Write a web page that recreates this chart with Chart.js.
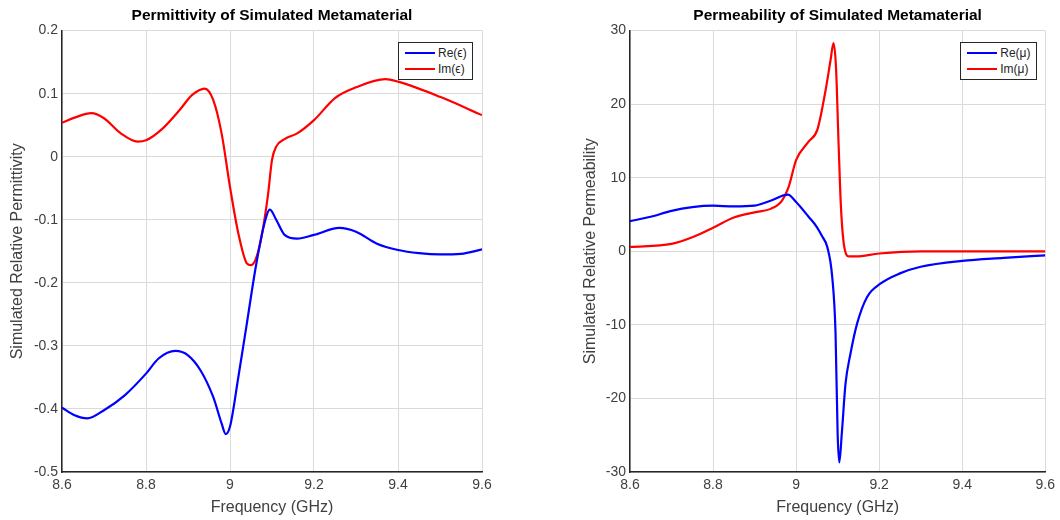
<!DOCTYPE html>
<html>
<head>
<meta charset="utf-8">
<script src="https://cdn.jsdelivr.net/npm/chart.js@4.4.1/dist/chart.umd.min.js"></script>
<style>
  body { margin: 0; background: #fff; }
  #wrap { position: relative; width: 1060px; height: 520px; overflow: hidden; }
  .pane { position: absolute; top: 0; width: 530px; height: 520px; }
  .legend {
    position: absolute; background: #fff; border: 1px solid #262626;
    font: 12px "Liberation Sans", Arial, sans-serif; color: #262626;
    padding: 2px 5px 2px 6px;
  }
  .legend .row { display: flex; align-items: center; height: 16px; }
  .legend .sw { display: inline-block; width: 30px; height: 2px; margin-right: 3px; }
</style>
</head>
<body>
<div id="wrap">
  <div class="pane" style="left:0"><canvas id="chart-eps" width="530" height="520"></canvas></div>
  <div class="pane" style="left:530px"><canvas id="chart-mu" width="530" height="520"></canvas></div>
  <div class="legend" id="legend-eps"></div>
  <div class="legend" id="legend-mu"></div>
</div>
<script>
(function () {
// values
const epsReFreq = [8.6, 8.63, 8.66, 8.7, 8.75, 8.8, 8.83, 8.87, 8.9, 8.93, 8.96, 8.98, 8.99, 9.0, 9.02, 9.04, 9.06, 9.08, 9.095, 9.11, 9.13, 9.16, 9.2, 9.26, 9.3, 9.35, 9.4, 9.45, 9.5, 9.55, 9.6];
const epsRe = [-0.398, -0.41, -0.415, -0.402, -0.378, -0.344, -0.32, -0.308, -0.315, -0.339, -0.381, -0.423, -0.44, -0.428, -0.349, -0.265, -0.18, -0.111, -0.084, -0.1, -0.124, -0.13, -0.124, -0.113, -0.119, -0.138, -0.148, -0.153, -0.155, -0.154, -0.147];

const epsImFreq = [8.6, 8.63, 8.67, 8.7, 8.74, 8.78, 8.8, 8.84, 8.88, 8.91, 8.94, 8.96, 8.98, 9.0, 9.02, 9.04, 9.05, 9.07, 9.09, 9.1, 9.11, 9.13, 9.16, 9.2, 9.25, 9.3, 9.37, 9.4, 9.5, 9.6];
const epsIm = [0.054, 0.062, 0.069, 0.061, 0.037, 0.024, 0.026, 0.045, 0.074, 0.098, 0.108, 0.09, 0.037, -0.048, -0.122, -0.169, -0.172, -0.143, -0.063, -0.005, 0.016, 0.028, 0.037, 0.058, 0.093, 0.11, 0.123, 0.119, 0.095, 0.066];

const muReFreq = [8.6, 8.65, 8.7, 8.75, 8.8, 8.85, 8.9, 8.94, 8.98, 9.0, 9.03, 9.05, 9.063, 9.075, 9.087, 9.095, 9.1, 9.104, 9.11, 9.119, 9.131, 9.147, 9.171, 9.203, 9.25, 9.3, 9.4, 9.5, 9.6];
const muRe = [4.1, 4.7, 5.5, 6.0, 6.2, 6.1, 6.2, 6.9, 7.7, 6.7, 4.7, 3.3, 2.0, 0.6, -3.5, -11.2, -24.8, -28.7, -24.8, -18.0, -13.9, -9.8, -6.2, -4.4, -3.0, -2.1, -1.3, -0.9, -0.55];

const muImFreq = [8.6, 8.7, 8.75, 8.8, 8.85, 8.9, 8.94, 8.966, 8.982, 9.0, 9.03, 9.051, 9.071, 9.083, 9.09, 9.096, 9.102, 9.108, 9.116, 9.128, 9.144, 9.2, 9.3, 9.4, 9.5, 9.6];
const muIm = [0.6, 1.0, 1.9, 3.2, 4.6, 5.3, 5.8, 6.9, 8.75, 12.4, 14.9, 16.5, 21.9, 26.0, 28.3, 25.1, 15.1, 6.0, 0.6, -0.7, -0.7, -0.3, 0.0, 0.0, 0.0, 0.0];

const freqTicks = [8.6, 8.8, 9, 9.2, 9.4, 9.6];
const epsTicks = [-0.5, -0.4, -0.3, -0.2, -0.1, 0, 0.1, 0.2];
const muTicks = [-30, -20, -10, 0, 10, 20, 30];

const epsLabels = ['Re(\u03f5)', 'Im(\u03f5)'];
const muLabels = ['Re(\u03bc)', 'Im(\u03bc)'];

const FONT = '"Liberation Sans", Arial, sans-serif';
const BLUE = '#0000ff';
const RED = '#ff0000';

function pts(xs, ys) {
    return xs.map((x, i) => ({ x: x, y: ys[i] }));
}

function line(label, color, data) {
    return {
        label: label,
        data: data,
        borderColor: color,
        backgroundColor: color,
        borderWidth: 2.2,
        pointRadius: 0,
        cubicInterpolationMode: 'monotone',
        fill: false
    };
}

function makeConfig(title, yTitle, datasets, yTicks, yWidth, yTitlePad, padRight) {
    return {
        type: 'line',
        data: { datasets: datasets },
        options: {
            responsive: false,
            animation: false,
            layout: { padding: { right: padRight, left: 0, top: 0, bottom: 0 } },
            plugins: {
                legend: { display: false },
                tooltip: { enabled: false },
                title: {
                    display: true,
                    text: title,
                    fullSize: false,
                    color: '#000',
                    font: { family: FONT, size: 15.5, weight: 'bold' },
                    padding: { top: 6, bottom: 6 }
                }
            },
            scales: {
                x: {
                    type: 'linear',
                    min: freqTicks[0],
                    max: freqTicks[freqTicks.length - 1],
                    afterBuildTicks: (s) => { s.ticks = freqTicks.map(v => ({ value: v })); },
                    afterFit: (s) => { s.height = 48; },
                    ticks: {
                        color: '#404040',
                        font: { family: FONT, size: 14 },
                        padding: 5,
                        maxRotation: 0,
                        callback: (v) => String(Number(v.toFixed(1)))
                    },
                    grid: { color: '#dadada', drawTicks: false },
                    border: { color: '#262626', width: 1.5 },
                    title: {
                        display: true,
                        text: 'Frequency (GHz)',
                        color: '#404040',
                        font: { family: FONT, size: 16 },
                        padding: { top: 0, bottom: 3 }
                    }
                },
                y: {
                    min: yTicks[0],
                    max: yTicks[yTicks.length - 1],
                    afterBuildTicks: (s) => { s.ticks = yTicks.map(v => ({ value: v })); },
                    afterFit: (s) => { s.width = yWidth; },
                    ticks: {
                        color: '#404040',
                        font: { family: FONT, size: 14 },
                        padding: 4,
                        callback: (v) => String(Number(v.toFixed(1)))
                    },
                    grid: { color: '#dadada', drawTicks: false },
                    border: { color: '#262626', width: 1.5 },
                    title: {
                        display: true,
                        text: yTitle,
                        color: '#404040',
                        font: { family: FONT, size: 16 },
                        padding: { top: yTitlePad, bottom: 0 }
                    }
                }
            }
        }
    };
}

function buildLegend(chart, el, paneLeft) {
    el.innerHTML = '';
    chart.data.datasets.forEach(ds => {
        const row = document.createElement('div');
        row.className = 'row';
        const sw = document.createElement('span');
        sw.className = 'sw';
        sw.style.background = ds.borderColor;
        const txt = document.createElement('span');
        txt.textContent = ds.label;
        row.appendChild(sw);
        row.appendChild(txt);
        el.appendChild(row);
    });
    const area = chart.chartArea;
    el.style.top = (area.top + 11) + 'px';
    el.style.left = (paneLeft + area.right - 9 - el.offsetWidth) + 'px';
}

const epsChart = new Chart(document.getElementById('chart-eps'), makeConfig(
    'Permittivity of Simulated Metamaterial',
    'Simulated Relative Permittivity',
    [line(epsLabels[0], BLUE, pts(epsReFreq, epsRe)), line(epsLabels[1], RED, pts(epsImFreq, epsIm))],
    epsTicks, 62, 8, 48
));

const muChart = new Chart(document.getElementById('chart-mu'), makeConfig(
    'Permeability of Simulated Metamaterial',
    'Simulated Relative Permeability',
    [line(muLabels[0], BLUE, pts(muReFreq, muRe)), line(muLabels[1], RED, pts(muImFreq, muIm))],
    muTicks, 100, 51, 11
));

buildLegend(epsChart, document.getElementById('legend-eps'), 0);
buildLegend(muChart, document.getElementById('legend-mu'), 530);
})();
</script>
</body>
</html>
